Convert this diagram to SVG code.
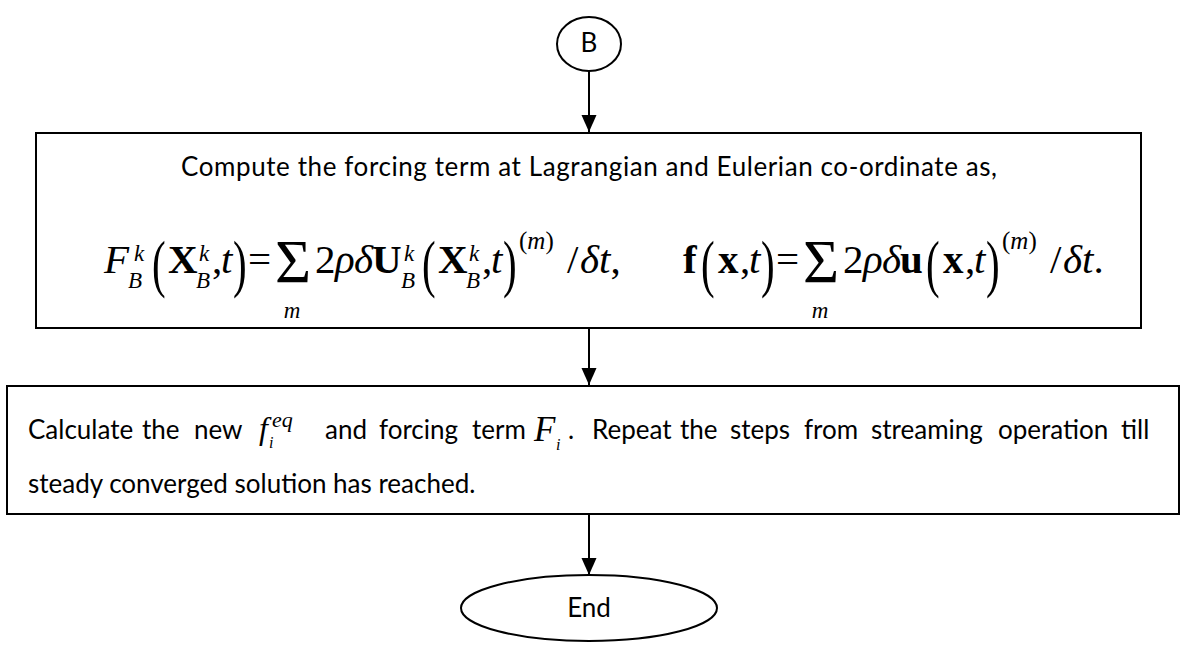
<svg xmlns="http://www.w3.org/2000/svg" width="1181" height="646" viewBox="0 0 1181 646">
<defs>
<marker id="ah" markerWidth="17" markerHeight="16" refX="17" refY="8" orient="auto" markerUnits="userSpaceOnUse">
<path d="M0,0.5 L17,8 L0,15.5 Z" fill="#000"/>
</marker>
<style>
.box{fill:#fff;stroke:#000;stroke-width:2}
.lbl{font-family:Lato,"Open Sans","Liberation Sans",sans-serif;font-size:26px;fill:#000}
.m{font-family:"Liberation Serif","Times New Roman",serif;font-size:41px;fill:#000}
.i{font-style:italic}
.b{font-weight:bold}
.s{font-size:23px}
.sg{font-size:62px}
.conn{stroke:#000;stroke-width:2;fill:none}
</style>
</defs>
<rect width="1181" height="646" fill="#fff"/>
<g id="connectors">
<line class="conn" x1="589" y1="71" x2="589" y2="132" marker-end="url(#ah)"/>
<line class="conn" x1="589" y1="328" x2="589" y2="385" marker-end="url(#ah)"/>
<line class="conn" x1="589" y1="514" x2="589" y2="575" marker-end="url(#ah)"/>
</g>
<g id="nodeB">
<ellipse class="box" cx="589" cy="44" rx="32" ry="27"/>
<text class="lbl" x="589" y="52" text-anchor="middle">B</text>
</g>
<g id="forcing">
<rect class="box" x="36" y="133" width="1105" height="195"/>
<text class="lbl" x="589" y="176" text-anchor="middle" textLength="816" lengthAdjust="spacing">Compute the forcing term at Lagrangian and Eulerian co-ordinate as,</text>
<g class="m">
<text class="i" x="104" y="273">F</text>
<text class="i s" x="134" y="261">k</text>
<text class="i s" x="128" y="288">B</text>
<text transform="translate(152,285) scale(1,1.55)">(</text>
<text class="b" x="168" y="273">X</text>
<text class="i s" x="199" y="261">k</text>
<text class="i s" x="196" y="288">B</text>
<text x="212" y="273">,</text>
<text class="i" x="221" y="273">t</text>
<text transform="translate(233,285) scale(1,1.55)">)</text>
<text x="248" y="273">=</text>
<text class="sg" x="275" y="282">Σ</text>
<text class="i s" x="292" y="318" text-anchor="middle">m</text>
<text x="315" y="273">2</text>
<text class="i" x="335" y="273">ρ</text>
<text class="i" x="354" y="273">δ</text>
<text class="b" x="372" y="273">U</text>
<text class="i s" x="404" y="261">k</text>
<text class="i s" x="401" y="288">B</text>
<text transform="translate(422,285) scale(1,1.55)">(</text>
<text class="b" x="438" y="273">X</text>
<text class="i s" x="469" y="261">k</text>
<text class="i s" x="466" y="288">B</text>
<text x="482" y="273">,</text>
<text class="i" x="491" y="273">t</text>
<text transform="translate(503,285) scale(1,1.55)">)</text>
<text x="519" y="249" style="font-size:25px">(<tspan class="i">m</tspan>)</text>
<text x="567" y="273">/</text>
<text x="580" y="273"><tspan class="i">δt</tspan>,</text>
<text class="b" x="683" y="273">f</text>
<text transform="translate(701,285) scale(1,1.55)">(</text>
<text class="b" x="718" y="273">x</text>
<text x="740" y="273">,</text>
<text class="i" x="749" y="273">t</text>
<text transform="translate(761,285) scale(1,1.55)">)</text>
<text x="776" y="273">=</text>
<text class="sg" x="803" y="282">Σ</text>
<text class="i s" x="820" y="318" text-anchor="middle">m</text>
<text x="843" y="273">2</text>
<text class="i" x="863" y="273">ρ</text>
<text class="i" x="882" y="273">δ</text>
<text class="b" x="900" y="273">u</text>
<text transform="translate(926,285) scale(1,1.55)">(</text>
<text class="b" x="943" y="273">x</text>
<text x="965" y="273">,</text>
<text class="i" x="974" y="273">t</text>
<text transform="translate(986,285) scale(1,1.55)">)</text>
<text x="1002" y="249" style="font-size:25px">(<tspan class="i">m</tspan>)</text>
<text x="1050" y="273">/</text>
<text x="1063" y="273"><tspan class="i">δt</tspan>.</text>
</g>
</g>
<g id="update">
<rect class="box" x="7" y="386" width="1172" height="128"/>
<text class="lbl" y="439"><tspan x="28">Calculate</tspan><tspan x="142">the</tspan><tspan x="194">new</tspan></text>
<text class="m i" x="259" y="439" style="font-size:32px">f</text>
<text class="m i" x="272" y="427" style="font-size:22px">eq</text>
<text class="m i" x="269" y="448" style="font-size:16px">i</text>
<text class="lbl" y="439"><tspan x="325">and</tspan><tspan x="379">forcing</tspan><tspan x="472">term</tspan></text>
<text class="m i" x="534" y="441" style="font-size:35px">F</text>
<text class="m i" x="556" y="450" style="font-size:16px">i</text>
<text class="lbl" y="439"><tspan x="568">.</tspan><tspan x="592">Repeat</tspan><tspan x="680">the</tspan><tspan x="730">steps</tspan><tspan x="804">from</tspan><tspan x="871">streaming</tspan><tspan x="998">operation</tspan><tspan x="1121">till</tspan></text>
<text class="lbl" x="28" y="493">steady converged solution has reached.</text>
</g>
<g id="end">
<ellipse class="box" cx="589" cy="608" rx="128" ry="33"/>
<text class="lbl" x="589" y="617" text-anchor="middle">End</text>
</g>
</svg>
